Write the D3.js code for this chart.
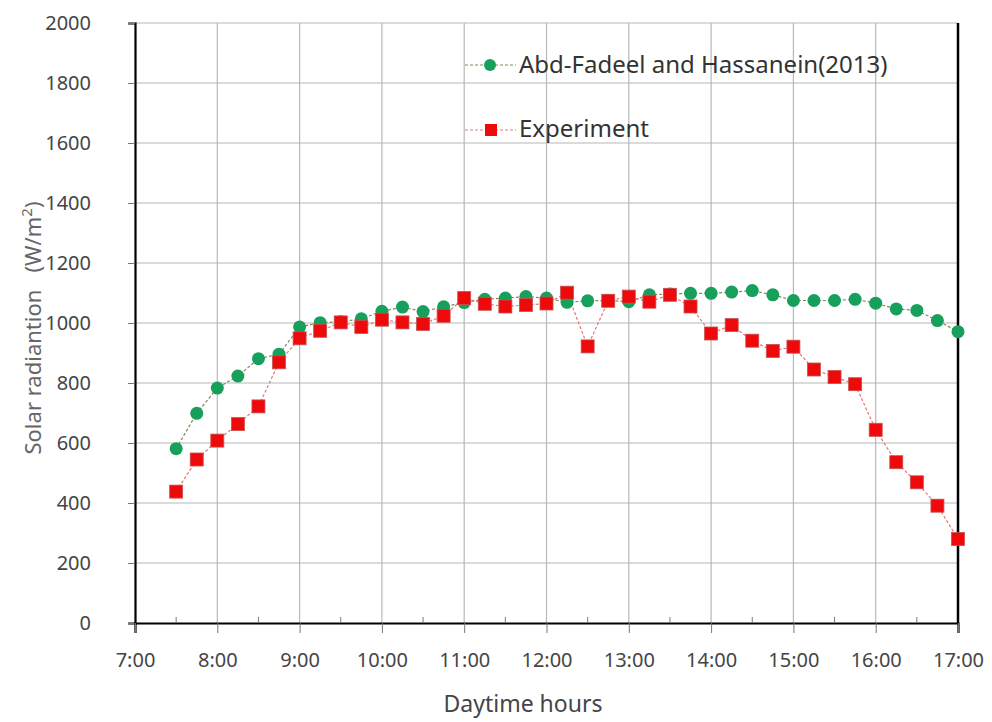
<!DOCTYPE html>
<html>
<head>
<meta charset="utf-8">
<script src="https://cdn.jsdelivr.net/npm/d3@7"></script>
<style>
  body { margin: 0; background: #fff; }
  svg text { font-family: "Noto Sans", "Open Sans", sans-serif; }
</style>
</head>
<body>
<svg width="992" height="722"></svg>
<script>
// times in hours, 15 min steps from 7:30 to 17:00
const hours = [7.5, 7.75, 8, 8.25, 8.5, 8.75, 9, 9.25, 9.5, 9.75, 10, 10.25, 10.5, 10.75,
    11, 11.25, 11.5, 11.75, 12, 12.25, 12.5, 12.75, 13, 13.25, 13.5, 13.75, 14, 14.25,
    14.5, 14.75, 15, 15.25, 15.5, 15.75, 16, 16.25, 16.5, 16.75, 17];

const model = [581, 699, 783, 823, 881, 896, 987, 1001, 1004, 1014, 1039, 1053, 1038, 1054,
    1068, 1079, 1083, 1088, 1083, 1069, 1074, 1075, 1071, 1094, 1097, 1099, 1099, 1103,
    1108, 1094, 1075, 1075, 1075, 1079, 1066, 1047, 1042, 1008, 971];

const experiment = [438, 545, 608, 663, 722, 869, 949, 974, 1002, 987, 1011, 1002, 997, 1024,
    1083, 1064, 1055, 1060, 1065, 1101, 922, 1074, 1088, 1071, 1094, 1055, 965, 993,
    941, 907, 921, 845, 820, 796, 644, 536, 469, 391, 280];

const xTicks = [7, 8, 9, 10, 11, 12, 13, 14, 15, 16, 17];
const yTicks = [0, 200, 400, 600, 800, 1000, 1200, 1400, 1600, 1800, 2000];

const svg = d3.select("svg");
const width = +svg.attr("width");
const height = +svg.attr("height");
const margin = {top: 23, right: 34, bottom: 99, left: 135};
const innerWidth = width - margin.left - margin.right;
const innerHeight = height - margin.top - margin.bottom;

const x = d3.scaleLinear().domain([7, 17]).range([0, innerWidth]);
const y = d3.scaleLinear().domain([0, 2000]).range([innerHeight, 0]);

const g = svg.append("g")
    .attr("transform", `translate(${margin.left}, ${margin.top})`);

// grid
g.append("g").selectAll("line")
    .data(yTicks.filter(d => d > 0))
    .join("line")
    .attr("x1", 0).attr("x2", innerWidth)
    .attr("y1", d => y(d)).attr("y2", d => y(d))
    .attr("stroke", "#b8b8b8").attr("stroke-width", 1.2);

g.append("g").selectAll("line")
    .data(xTicks.slice(1, -1))
    .join("line")
    .attr("x1", d => x(d)).attr("x2", d => x(d))
    .attr("y1", 0).attr("y2", innerHeight)
    .attr("stroke", "#b8b8b8").attr("stroke-width", 1.2);

// y axis
const yAxis = g.append("g")
    .call(d3.axisLeft(y).tickValues(yTicks).tickSize(7).tickPadding(37).tickFormat(d3.format("d")));
yAxis.select(".domain").attr("stroke", "#000").attr("stroke-width", 2.2);
yAxis.selectAll(".tick line").attr("stroke", "#777");
yAxis.selectAll("text").attr("font-size", 20).attr("fill", "#454545");

// x axis
const fmt = d => `${d}:00`;
const xAxis = g.append("g")
    .attr("transform", `translate(0, ${innerHeight})`)
    .call(d3.axisBottom(x).tickValues(xTicks).tickSize(10).tickPadding(20).tickFormat(fmt));
xAxis.select(".domain").attr("stroke", "#000").attr("stroke-width", 2.2);
xAxis.selectAll(".tick line").attr("stroke", "#777");
xAxis.selectAll("text").attr("font-size", 20).attr("fill", "#454545");

// minor ticks on half hours
g.append("g").selectAll("line")
    .data(xTicks.slice(0, -1).map(d => d + 0.5))
    .join("line")
    .attr("x1", d => x(d)).attr("x2", d => x(d))
    .attr("y1", innerHeight - 6).attr("y2", innerHeight)
    .attr("stroke", "#777");

// right border
g.append("line")
    .attr("x1", innerWidth).attr("x2", innerWidth)
    .attr("y1", 0).attr("y2", innerHeight)
    .attr("stroke", "#000").attr("stroke-width", 2.5);

// axis titles
svg.append("text")
    .attr("x", 523)
    .attr("y", 712)
    .attr("text-anchor", "middle")
    .attr("font-size", 23)
    .attr("fill", "#454545")
    .text("Daytime hours");

const yTitle = svg.append("text")
    .attr("transform", "translate(41, 328) rotate(-90)")
    .attr("text-anchor", "middle")
    .attr("font-size", 22)
    .attr("fill", "#666")
    .attr("xml:space", "preserve");
yTitle.append("tspan").text("Solar radiantion   (W/m");
yTitle.append("tspan").attr("dy", -9).attr("font-size", 15).text("2");
yTitle.append("tspan").attr("dy", 9).text(")");

// series
const modelData = hours.map((h, i) => ({h, v: model[i]}));
const expData = hours.map((h, i) => ({h, v: experiment[i]}));

const line = d3.line().x(d => x(d.h)).y(d => y(d.v));

g.append("path")
    .datum(modelData)
    .attr("fill", "none")
    .attr("stroke", "#7f8a55")
    .attr("stroke-width", 1.2)
    .attr("stroke-dasharray", "3,2")
    .attr("d", line);

g.append("path")
    .datum(expData)
    .attr("fill", "none")
    .attr("stroke", "#e07a7a")
    .attr("stroke-width", 1.2)
    .attr("stroke-dasharray", "3,2")
    .attr("d", line);

g.append("g").selectAll("circle")
    .data(modelData)
    .join("circle")
    .attr("cx", d => x(d.h))
    .attr("cy", d => y(d.v))
    .attr("r", 6.5)
    .attr("fill", "#16a05c");

g.append("g").selectAll("rect")
    .data(expData)
    .join("rect")
    .attr("x", d => x(d.h) - 6.5)
    .attr("y", d => y(d.v) - 6.5)
    .attr("width", 13)
    .attr("height", 13)
    .attr("fill", "#ee0a0a")
    .attr("stroke", "#c85050")
    .attr("stroke-width", 0.8);

// legend
const legend = svg.append("g");
legend.append("line")
    .attr("x1", 465).attr("x2", 516).attr("y1", 65).attr("y2", 65)
    .attr("stroke", "#7f8a55").attr("stroke-width", 1.2).attr("stroke-dasharray", "3,2");
legend.append("circle").attr("cx", 490).attr("cy", 65).attr("r", 6).attr("fill", "#16a05c");
legend.append("text").attr("x", 519).attr("y", 73).attr("font-size", 24).attr("fill", "#333")
    .text("Abd-Fadeel and Hassanein(2013)");

legend.append("line")
    .attr("x1", 465).attr("x2", 516).attr("y1", 130).attr("y2", 130)
    .attr("stroke", "#e07a7a").attr("stroke-width", 1.2).attr("stroke-dasharray", "3,2");
legend.append("rect").attr("x", 485).attr("y", 124).attr("width", 12).attr("height", 12)
    .attr("fill", "#ee0a0a");
legend.append("text").attr("x", 519).attr("y", 137).attr("font-size", 24).attr("fill", "#333")
    .text("Experiment");
</script>
</body>
</html>
